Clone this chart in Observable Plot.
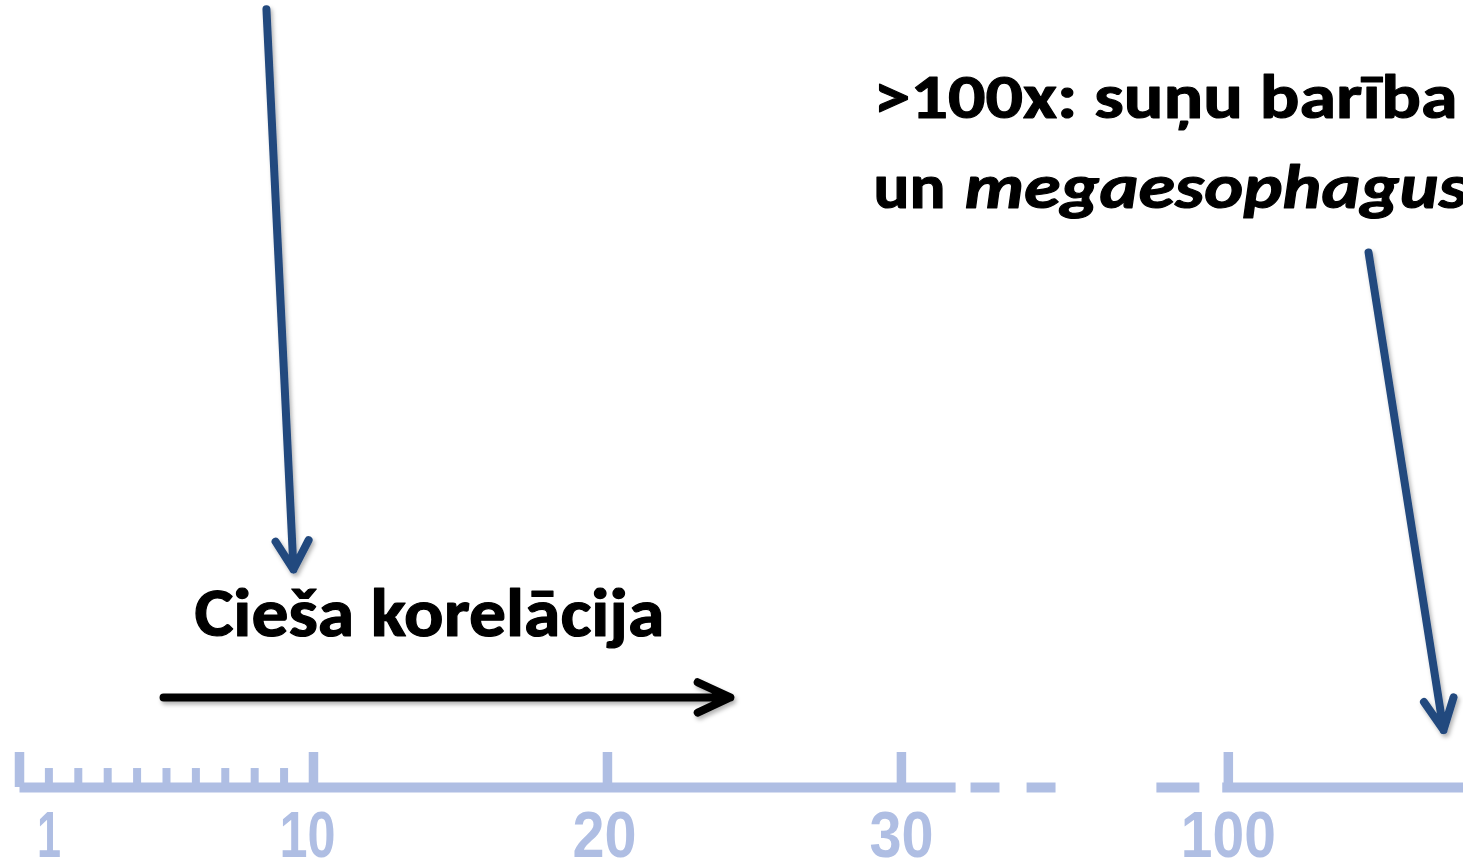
<!DOCTYPE html>
<html><head><meta charset="utf-8">
<script src="https://cdn.jsdelivr.net/npm/d3@7"></script>
<script src="https://cdn.jsdelivr.net/npm/@observablehq/plot@0.6"></script>
<style>
html,body{margin:0;padding:0;background:#fff;overflow:hidden}
#chart svg{display:block;overflow:hidden}
</style></head><body><div id="chart"></div>
<script>
// ---- axis (broken number line) ----
// value -> position on the drawn line (break between 30 and 100)
const breakValues = [0, 30, 100, 108];
const breakSlots = [0, 30, 41.12, 49.12];
const majorTicks = [0, 10, 20, 30, 100];
const minorTicks = [1, 2, 3, 4, 5, 6, 7, 8, 9];
const tickLabelValues = [1, 9.8, 19.9, 30, 100];
const tickLabels = ["1", "10", "20", "30", "100"];
const axisSegStart = [0, 44.8, 56.8, 84.6, 98.7];
const axisSegEnd = [41.6, 51.0, 63.0, 93.8, 108];
const majorTickHeight = 4.45;
const minorTickHeight = 2.41;

// ---- annotations ----
const annotationTexts = ["Cieša korelācija", ">100x: suņu barība", "un", "megaesophagus"];
const annotationX = [5.95, 29.05, 29.05, 43.5];
const annotationY = [19.2, 85.1, 73.6, 73.6];

const arrowNames = ["to10", "to100", "correlation"];
const arrowX1 = [8.40, 104.77, 4.9];
const arrowY1 = [98.9, 67.98, 11.44];
const arrowX2 = [9.32, 107.32, 24.18];
const arrowY2 = [27.7, 7.3, 11.44];

const AXIS = "#afbee3";
const BLUE = "#23497e";

const breakMap = d3.scaleLinear().domain(breakValues).range(breakSlots);

const segs = axisSegStart.map((s, i) => ({x1: s, x2: axisSegEnd[i], y: 0}));
const majors = majorTicks.map(v => ({x: v, y1: 0, y2: majorTickHeight}));
const minors = minorTicks.map(v => ({x: v, y1: 0, y2: minorTickHeight}));
const labels = tickLabelValues.map((v, i) => ({x: v, y: -8.8, text: tickLabels[i]}));
const ann = annotationTexts.map((t, i) => ({text: t, x: annotationX[i], y: annotationY[i]}));
const arrows = arrowNames.map((n, i) => ({name: n, x1: arrowX1[i], y1: arrowY1[i], x2: arrowX2[i], y2: arrowY2[i]}));

const FONT = "Carlito, Calibri, Lato, sans-serif";

const plot = Plot.plot({
  width: 1463,
  height: 858,
  margin: 0,
  style: {background: "#fff", overflow: "hidden"},
  x: {type: "linear", transform: v => breakMap(v), domain: [0, 49.12], range: [19, 1463], axis: null},
  y: {domain: [0, 100], range: [787, 0], axis: null},
  marks: [
    Plot.link(segs, {x1: "x1", x2: "x2", y1: "y", y2: "y", stroke: AXIS, strokeWidth: 10, strokeLinecap: "butt"}),
    Plot.ruleX(majors, {x: "x", y1: "y1", y2: "y2", stroke: AXIS, strokeWidth: 9.5}),
    Plot.ruleX(minors, {x: "x", y1: "y1", y2: "y2", stroke: AXIS, strokeWidth: 8}),
    Plot.text(labels, {x: "x", y: "y", text: "text", fill: AXIS, fontSize: 64, fontWeight: "bold",
      fontFamily: "'Liberation Sans Narrow', 'Liberation Sans', Arial, sans-serif", textAnchor: "middle", lineAnchor: "bottom"}),
    Plot.text(ann.slice(0, 1), {x: "x", y: "y", text: "text", fill: "#000", stroke: "#000", strokeWidth: 1.2, fontSize: 68, fontWeight: "bold",
      fontFamily: FONT, textAnchor: "start", lineAnchor: "bottom"}),
    Plot.text(ann.slice(1, 3), {x: "x", y: "y", text: "text", fill: "#000", stroke: "#000", strokeWidth: 1.1, fontSize: 62, fontWeight: "bold",
      fontFamily: FONT, textAnchor: "start", lineAnchor: "bottom"}),
    Plot.text(ann.slice(3, 4), {x: "x", y: "y", text: "text", fill: "#000", stroke: "#000", strokeWidth: 1.1, fontSize: 62, fontWeight: "bold",
      fontStyle: "italic", fontFamily: FONT, textAnchor: "start", lineAnchor: "bottom"}),
    Plot.arrow(arrows.slice(0, 1), {x1: "x1", y1: "y1", x2: "x2", y2: "y2", stroke: BLUE, strokeWidth: 8,
      headAngle: 60, headLength: 6.2, strokeLinejoin: "round", strokeLinecap: "round"}),
    Plot.arrow(arrows.slice(1, 2), {x1: "x1", y1: "y1", x2: "x2", y2: "y2", stroke: BLUE, strokeWidth: 8,
      headAngle: 52, headLength: 6.4, strokeLinejoin: "round", strokeLinecap: "round"}),
    Plot.arrow(arrows.slice(2, 3), {x1: "x1", y1: "y1", x2: "x2", y2: "y2", stroke: "#000", strokeWidth: 8,
      headAngle: 50, headLength: 6.75, strokeLinejoin: "round", strokeLinecap: "round"})
  ]
});

document.getElementById("chart").append(plot);

// drop shadow for arrows (PowerPoint-like)
const ns = "http://www.w3.org/2000/svg";
const defs = document.createElementNS(ns, "defs");
defs.innerHTML = '<filter id="sh" filterUnits="userSpaceOnUse" x="0" y="0" width="1463" height="858"><feDropShadow dx="2" dy="3" stdDeviation="2" flood-color="#000" flood-opacity="0.3"/></filter>';
plot.insertBefore(defs, plot.firstChild);
plot.querySelectorAll('g[aria-label="arrow"]').forEach(g => g.setAttribute("filter", "url(#sh)"));

// fit text widths to the reference
const targets = {"Cieša korelācija": 470, ">100x: suņu barība": 584, "un": 72,
  "1": 24, "10": 56, "20": 64, "30": 64, "100": 95};
let factor = 1;
plot.querySelectorAll("text").forEach(t => {
  const s = t.textContent;
  if (targets[s] !== undefined) {
    const w = t.getComputedTextLength();
    if (s === ">100x: suņu barība") factor = targets[s] / w;
    t.setAttribute("textLength", targets[s]);
    t.setAttribute("lengthAdjust", "spacingAndGlyphs");
  }
});
plot.querySelectorAll("text").forEach(t => {
  if (t.textContent === "megaesophagus") {
    const w = t.getComputedTextLength();
    t.setAttribute("textLength", w * factor);
    t.setAttribute("lengthAdjust", "spacingAndGlyphs");
  }
});
</script></body></html>
